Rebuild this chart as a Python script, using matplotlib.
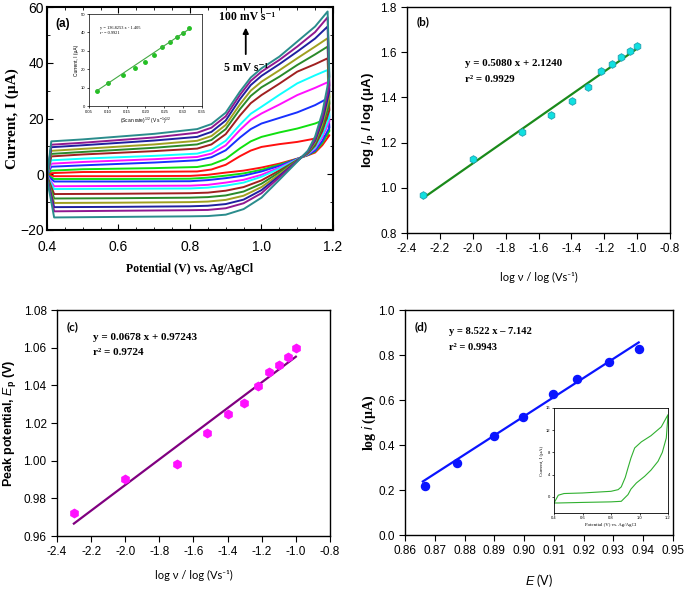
import numpy as np
import matplotlib
matplotlib.use('Agg')
import matplotlib.pyplot as plt
from matplotlib.ticker import MultipleLocator

plt.rcParams['font.family'] = ['Liberation Sans', 'DejaVu Sans']
plt.rcParams['mathtext.fontset'] = 'custom'
plt.rcParams['mathtext.rm'] = 'Liberation Sans'
plt.rcParams['mathtext.it'] = 'Liberation Sans:italic'
plt.rcParams['mathtext.bf'] = 'Liberation Sans:bold'

SERIF = ['Liberation Serif', 'DejaVu Serif']
HUMAN = ['Lato', 'DejaVu Sans']

# ---- (a) cyclic voltammograms, 5 ... 100 mV/s
cv_colors = ['#ff1010', '#10e010', '#1830ff', '#ff10ff', '#10ffff', '#a02020',
             '#2a8a2a', '#a0a020', '#2020a0', '#901890', '#2a8c8c']
E_fwd = [0.40, 0.412, 0.5, 0.7, 0.82, 0.86, 0.9, 0.94, 0.97, 1.0, 1.05, 1.1, 1.15, 1.185]
E_rev = [1.19, 1.17, 1.15, 1.13, 1.10, 1.05, 1.0, 0.95, 0.9, 0.85, 0.8, 0.6, 0.42, 0.40]
I_fwd = [
    [0.0, 0.4, 0.8, 0.9, 1.0, 1.7, 3.4, 6.5, 8.5, 9.8, 10.8, 11.6, 12.8, 14.0],
    [-0.1, 1.3, 1.8, 2.2, 2.6, 3.5, 5.5, 9.3, 11.8, 13.4, 15.0, 16.4, 18.2, 20.0],
    [-0.2, 2.7, 3.2, 4.2, 5.0, 6.1, 8.6, 13.2, 16.2, 18.2, 20.2, 22.2, 24.8, 27.2],
    [-0.4, 3.8, 4.4, 5.4, 6.2, 7.4, 10.4, 15.9, 19.5, 21.8, 25.0, 28.4, 31.0, 33.0],
    [-0.5, 5.0, 5.6, 6.6, 7.4, 8.7, 12.0, 17.8, 21.7, 24.2, 28.5, 32.6, 35.5, 37.4],
    [-0.6, 6.4, 7.1, 8.3, 9.2, 10.7, 14.4, 21.1, 25.5, 28.4, 32.5, 36.8, 39.5, 41.6],
    [-0.8, 7.3, 8.0, 9.5, 10.7, 12.3, 16.2, 23.4, 28.1, 31.2, 35.0, 39.2, 43.0, 45.8],
    [-1.0, 8.4, 9.1, 10.7, 12.0, 13.7, 17.7, 25.1, 30.0, 33.2, 37.3, 41.6, 45.8, 48.8],
    [-1.1, 9.7, 10.4, 12.1, 13.4, 15.2, 19.3, 27.0, 32.0, 35.3, 39.5, 44.0, 48.7, 53.0],
    [-1.3, 10.6, 11.3, 13.2, 14.9, 16.7, 20.8, 28.5, 33.5, 36.8, 41.0, 45.8, 51.0, 56.3],
    [-1.5, 11.8, 12.5, 14.5, 16.2, 18.0, 22.1, 29.7, 34.7, 38.0, 42.2, 47.6, 53.0, 58.4],
]
I_rev = [
    [14.0, 10.4, 7.8, 6.8, 5.6, 3.8, 2.4, 1.3, 0.6, -0.2, -0.6, -0.7, -0.7, 0.0],
    [15.5, 11.2, 8.2, 6.9, 5.5, 3.4, 1.6, 0.3, -0.5, -1.2, -1.6, -1.7, -1.7, -0.1],
    [16.7, 11.9, 8.5, 7.0, 5.5, 3.0, 1.0, -0.5, -1.4, -2.1, -2.5, -2.6, -2.6, -0.2],
    [19.0, 13.2, 9.2, 7.2, 5.3, 2.4, -0.2, -2.0, -3.0, -3.8, -4.1, -4.2, -4.3, -0.4],
    [20.5, 14.0, 9.6, 7.3, 5.3, 2.0, -0.9, -3.0, -4.1, -4.8, -5.1, -5.2, -5.3, -0.5],
    [23.0, 15.4, 10.3, 7.5, 5.1, 1.3, -2.2, -4.6, -5.9, -6.6, -6.8, -7.0, -7.1, -0.6],
    [25.3, 16.7, 10.9, 7.7, 5.0, 0.7, -3.4, -6.2, -7.6, -8.2, -8.4, -8.6, -8.7, -0.8],
    [27.7, 18.0, 11.5, 7.9, 4.9, 0.0, -4.6, -7.7, -9.2, -9.8, -10.0, -10.2, -10.3, -1.0],
    [29.8, 19.1, 12.1, 8.1, 4.8, -0.6, -5.7, -9.1, -10.7, -11.3, -11.5, -11.7, -11.8, -1.1],
    [31.9, 20.3, 12.6, 8.2, 4.7, -1.1, -6.8, -10.4, -12.2, -12.8, -12.9, -13.1, -13.3, -1.3],
    [35.0, 22.0, 13.5, 8.5, 4.5, -2.0, -8.4, -12.5, -14.5, -15.0, -15.1, -15.3, -15.5, -1.5],
]

# inset of (a): peak current vs sqrt(scan rate)
sqrt_v = [0.0707, 0.1, 0.1414, 0.1732, 0.2, 0.2236, 0.2449, 0.2646, 0.2828, 0.3, 0.3162]
Ip_inset = [8.4, 12.7, 17.0, 20.6, 24.0, 27.5, 32.2, 35.0, 37.5, 39.9, 42.3]
fit_inset = (136.8253, -1.405)

# ---- (b) log Ip vs log v
log_v = [-2.301, -2.0, -1.699, -1.523, -1.398, -1.301, -1.222, -1.155, -1.097, -1.046, -1.0]
log_Ip = [0.969, 1.126, 1.246, 1.322, 1.385, 1.444, 1.516, 1.550, 1.579, 1.604, 1.629]
fit_b = (0.5080, 2.1240)

# ---- (c) Ep vs log v
Ep = [0.9724, 0.9905, 0.9981, 1.0148, 1.0247, 1.0307, 1.0398, 1.0472, 1.0507, 1.0548, 1.0596]
fit_c = (0.0681, 1.1233)   # line as drawn in the figure

# ---- (d) Tafel-type plot
E_d = [0.8667, 0.8776, 0.8899, 0.8998, 0.9097, 0.9179, 0.9286, 0.9385]
log_i = [0.219, 0.319, 0.440, 0.523, 0.627, 0.693, 0.767, 0.825]
fit_d = (8.522, -7.142)

# inset of (d): single CV
E_in_fwd = [0.40, 0.43, 0.47, 0.6, 0.8, 0.85, 0.872, 0.9, 0.919, 0.94, 0.966, 1.013, 1.08, 1.153, 1.2]
I_in_fwd = [-1.1, 0.3, 0.6, 0.7, 1.0, 1.3, 1.8, 3.5, 5.2, 7.0, 8.8, 9.9, 11.0, 12.6, 14.8]
E_in_rev = [1.2, 1.188, 1.16, 1.13, 1.08, 1.036, 0.978, 0.94, 0.919, 0.872, 0.8, 0.6, 0.43, 0.40]
I_in_rev = [14.8, 10.6, 8.0, 6.4, 4.8, 3.7, 2.5, 1.4, 0.4, -0.8, -0.9, -1.0, -1.1, -1.1]


def frame(ax, lw=1.0):
    for s in ax.spines.values():
        s.set_linewidth(lw)


fig = plt.figure(figsize=(6.85, 5.94), dpi=100)

# ================= (a)
ax = fig.add_axes([0.0686, 0.6128, 0.4175, 0.3754])
for col, ifw, irv in zip(cv_colors, I_fwd, I_rev):
    ax.plot(E_fwd + E_rev, ifw + irv, color=col, lw=1.4)
ax.set_xlim(0.4, 1.2)
ax.set_ylim(-20, 60)
ax.xaxis.set_minor_locator(MultipleLocator(0.05))
ax.yaxis.set_major_locator(MultipleLocator(20))
ax.yaxis.set_minor_locator(MultipleLocator(10))
ax.set_xticks([0.4, 0.6, 0.8, 1.0, 1.2])
ax.set_xticklabels(['0.4', '0.6', '0.8', '1.0', '1.2'])
ax.tick_params(which='both', direction='in', top=True, right=True, labelsize=10)
ax.tick_params(axis='x', pad=7)
ax.tick_params(axis='y', pad=2)
ax.tick_params(which='major', length=4)
ax.tick_params(which='minor', length=2)
frame(ax, 1.5)
ax.set_xlabel('Potential (V) vs. Ag/AgCl', family=SERIF, fontweight='bold', fontsize=8.5)
ax.xaxis.set_label_coords(0.5, -0.148)
ax.set_ylabel('Current, I (µA)', family=SERIF, fontweight='bold', fontsize=11)
ax.yaxis.set_label_coords(-0.098, 0.5)
ax.text(0.03, 0.95, '(a)', transform=ax.transAxes, fontsize=8.5, fontweight='bold', va='top')
ax.text(0.959, 56.5, '100 mV s⁻¹', family=SERIF, fontweight='bold', fontsize=8.5, ha='center', va='center')
ax.text(0.957, 38.1, '5 mV s⁻¹', family=SERIF, fontweight='bold', fontsize=8.5, ha='center', va='center')
ax.annotate('', xy=(0.956, 53.6), xytext=(0.956, 42.1),
            arrowprops=dict(arrowstyle='-|>', color='black', lw=1.3, mutation_scale=8))

axi = fig.add_axes([0.1299, 0.8215, 0.165, 0.1549])
axi.plot(sqrt_v, Ip_inset, 'o', color='#22c022', ms=2.5)
xs = np.array([sqrt_v[0], sqrt_v[-1]])
axi.plot(xs, fit_inset[0] * xs + fit_inset[1], color='#44aa44', lw=0.8)
axi.set_xlim(0.05, 0.35)
axi.set_ylim(0, 50)
axi.set_xticks([0.05, 0.10, 0.15, 0.20, 0.25, 0.30, 0.35])
axi.set_xticklabels(['0.05', '0.10', '0.15', '0.20', '0.25', '0.30', '0.35'])
axi.set_yticks([0, 10, 20, 30, 40, 50])
axi.tick_params(labelsize=3, length=1.5, width=0.5, pad=1)
frame(axi, 0.5)
axi.set_xlabel('(Scan rate)$^{1/2}$ (V s$^{-1}$)$^{1/2}$', fontsize=3.5, labelpad=1.5)
axi.set_ylabel('Current, I (µA)', fontsize=3.5, labelpad=1.5)
axi.text(0.1, 0.82, 'y = 136.8253 x - 1.405\nr² = 0.9921', transform=axi.transAxes,
         family=SERIF, fontsize=3.2, va='center', linespacing=1.3)

# ================= (b)
ax = fig.add_axes([0.5942, 0.6077, 0.3839, 0.3805])
ax.plot(log_v, log_Ip, 'h', color='#10e0e0', mec='#20a0b0', ms=5.5, mew=0.6, zorder=3)
xs = np.array([log_v[0], log_v[-1]])
ax.plot(xs, fit_b[0] * xs + fit_b[1], color='#1a8a1a', lw=1.6)
ax.set_xlim(-2.4, -0.8)
ax.set_ylim(0.8, 1.8)
ax.set_xticks(np.arange(-2.4, -0.79, 0.2))
ax.set_xticklabels(['-2.4', '-2.2', '-2.0', '-1.8', '-1.6', '-1.4', '-1.2', '-1.0', '-0.8'])
ax.set_yticks(np.arange(0.8, 1.81, 0.2))
ax.set_yticklabels(['0.8', '1.0', '1.2', '1.4', '1.6', '1.8'])
ax.tick_params(labelsize=8.5, length=4)
frame(ax, 1.0)
ax.set_xlabel('log ν / log (Vs⁻¹)', family=HUMAN, fontsize=8)
ax.xaxis.set_label_coords(0.5, -0.173)
ax.set_ylabel(r'log $\mathbf{\mathit{I}}_\mathbf{p}$ / log ($\mathbf{\mu}$A)', fontweight='bold', fontsize=9.5)
ax.yaxis.set_label_coords(-0.114, 0.5)
ax.text(0.035, 0.96, '(b)', transform=ax.transAxes, fontsize=8.5, fontweight='bold', va='top', family=HUMAN)
ax.text(-2.05, 1.552, 'y = 0.5080 x + 2.1240', family=SERIF, fontweight='bold', fontsize=7.8, va='center')
ax.text(-2.05, 1.48, 'r² = 0.9929', family=SERIF, fontweight='bold', fontsize=7.8, va='center')

# ================= (c)
ax = fig.add_axes([0.0832, 0.0976, 0.3985, 0.3805])
ax.plot(log_v, Ep, 'h', color='#ff10ff', mec='#ff10ff', ms=6, zorder=3)
xs = np.array([log_v[0], log_v[-1]])
ax.plot(xs, fit_c[0] * xs + fit_c[1], color='#800080', lw=1.6)
ax.set_xlim(-2.4, -0.8)
ax.set_ylim(0.96, 1.08)
ax.set_xticks(np.arange(-2.4, -0.79, 0.2))
ax.set_xticklabels(['-2.4', '-2.2', '-2.0', '-1.8', '-1.6', '-1.4', '-1.2', '-1.0', '-0.8'])
ax.set_yticks(np.arange(0.96, 1.081, 0.02))
ax.set_yticklabels(['0.96', '0.98', '1.00', '1.02', '1.04', '1.06', '1.08'])
ax.tick_params(labelsize=8.5, length=4)
frame(ax, 1.0)
ax.set_xlabel('log ν / log (Vs⁻¹)', family=HUMAN, fontsize=8)
ax.xaxis.set_label_coords(0.5, -0.150)
ax.set_ylabel(r'Peak potential, $\mathbf{\mathit{E}}_\mathbf{p}$ (V)', fontweight='bold', fontsize=9)
ax.yaxis.set_label_coords(-0.143, 0.5)
ax.text(0.035, 0.95, '(c)', transform=ax.transAxes, fontsize=8.5, fontweight='bold', va='top', family=HUMAN)
ax.text(-2.19, 1.0653, 'y = 0.0678 x + 0.97243', family=SERIF, fontweight='bold', fontsize=8, va='center')
ax.text(-2.19, 1.0575, 'r² = 0.9724', family=SERIF, fontweight='bold', fontsize=8, va='center')

# ================= (d)
ax = fig.add_axes([0.5912, 0.0993, 0.3912, 0.3788])
ax.plot(E_d, log_i, 'o', color='#0a14ff', ms=5.8, zorder=3)
xs = np.array([0.866, E_d[-1]])
ax.plot(xs, fit_d[0] * xs + fit_d[1], color='#0a14ff', lw=1.6)
ax.set_xlim(0.86, 0.95)
ax.set_ylim(0.0, 1.0)
ax.set_xticks(np.arange(0.86, 0.951, 0.01))
ax.set_xticklabels(['%.2f' % t for t in np.arange(0.86, 0.951, 0.01)])
ax.set_yticks(np.arange(0, 1.01, 0.2))
ax.set_yticklabels(['0.0', '0.2', '0.4', '0.6', '0.8', '1.0'])
ax.tick_params(labelsize=8.5, length=4)
frame(ax, 1.0)
ax.set_xlabel(r'$\mathit{E}$ (V)', family=HUMAN, fontsize=9)
ax.xaxis.set_label_coords(0.5, -0.164)
ax.set_ylabel(r'log $\mathit{i}$ (µA)', family=SERIF, fontweight='bold', fontsize=10)
ax.yaxis.set_label_coords(-0.100, 0.5)
ax.text(0.035, 0.95, '(d)', transform=ax.transAxes, fontsize=8.5, fontweight='bold', va='top', family=HUMAN)
ax.text(0.8749, 0.904, 'y = 8.522 x \u2013 7.142', family=SERIF, fontweight='bold', fontsize=7.6, va='center')
ax.text(0.8749, 0.833, 'r² = 0.9943', family=SERIF, fontweight='bold', fontsize=7.6, va='center')

axd = fig.add_axes([0.8088, 0.1364, 0.1664, 0.1768])
axd.plot(E_in_fwd + E_in_rev, I_in_fwd + I_in_rev, color='#30b030', lw=0.8)
axd.set_xlim(0.4, 1.2)
axd.set_ylim(-2.9, 16)
axd.set_xticks([0.4, 0.6, 0.8, 1.0, 1.2])
axd.set_xticklabels(['0.4', '0.6', '0.8', '1.0', '1.2'])
axd.set_yticks([0, 4, 8, 12, 16])
axd.tick_params(labelsize=3, length=1.5, width=0.5, pad=1)
frame(axd, 0.6)
axd.set_xlabel('Potential (V) vs. Ag/AgCl', family=SERIF, fontsize=3.5, labelpad=2)
axd.set_ylabel('Current, I (µA)', family=SERIF, fontsize=3.5, labelpad=1.5)

fig.savefig('out.png', dpi=100)
